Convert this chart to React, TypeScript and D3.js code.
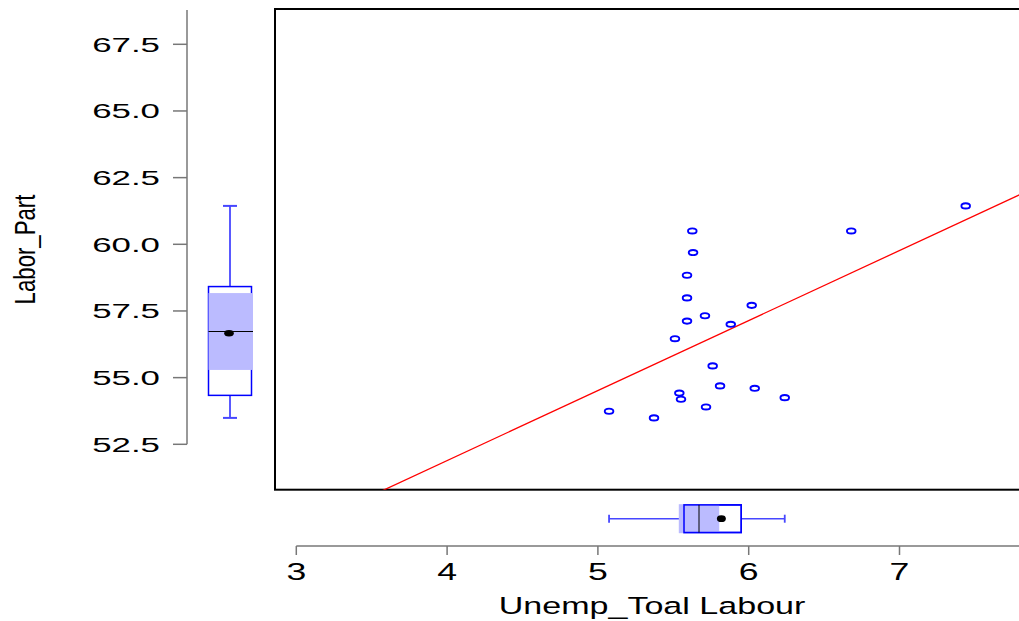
import React from "react";
import * as d3 from "d3";

// Data
const unemp: number[] = [
  5.626, 5.631, 5.591, 5.591, 5.591, 5.71, 5.881, 6.02, 5.511, 5.761,
  5.81, 6.04, 6.239, 5.54, 5.551, 5.717, 5.074, 5.372, 6.68, 7.439,
];
const laborPart: number[] = [
  60.5, 59.69, 58.84, 57.99, 57.12, 57.32, 57.0, 57.71, 56.46, 55.44,
  54.69, 54.6, 54.25, 54.42, 54.19, 53.9, 53.74, 53.49, 60.5, 61.44,
];
const xTicks: number[] = [3, 4, 5, 6, 7];
const yTicks: number[] = [52.5, 55, 57.5, 60, 62.5, 65, 67.5];
const xTitle = "Unemp_Toal Labour";
const yTitle = "Labor_Part";

const W = 1019;
const H = 621;
const FONT = "'Liberation Sans', Arial, Helvetica, sans-serif";

// plot region
const plotLeft = 275;
const plotTop = 9;
const plotBottom = 489.7;
const plotRight = 1040;

const x = d3.scaleLinear().domain([3, 8]).range([296.3, 296.3 + 5 * 150.8]);
const y = d3.scaleLinear().domain([52.5, 67.5]).range([444.3, 44.3]);

function fivenum(vals: number[]) {
  const s = [...vals].sort((a, b) => a - b);
  const n = s.length;
  const n4 = Math.floor((n + 3) / 2) / 2;
  const d = [1, n4, (n + 1) / 2, n + 1 - n4, n];
  return d.map((k) => 0.5 * (s[Math.floor(k) - 1] + s[Math.ceil(k) - 1]));
}

function boxStats(vals: number[]) {
  const [mn, lo, med, hi, mx] = fivenum(vals);
  const iqr = hi - lo;
  const inside = vals.filter((v) => v >= lo - 1.5 * iqr && v <= hi + 1.5 * iqr);
  const notch = (1.58 * iqr) / Math.sqrt(vals.length);
  return {
    lo,
    hi,
    med,
    wLo: d3.min(inside) as number,
    wHi: d3.max(inside) as number,
    nLo: med - notch,
    nHi: med + notch,
    mean: d3.mean(vals) as number,
    mn,
    mx,
  };
}

// least squares fit
function fit(xs: number[], ys: number[]) {
  const mx = d3.mean(xs) as number;
  const my = d3.mean(ys) as number;
  let sxy = 0;
  let sxx = 0;
  xs.forEach((xv, i) => {
    sxy += (xv - mx) * (ys[i] - my);
    sxx += (xv - mx) * (xv - mx);
  });
  const b = sxy / sxx;
  return { a: my - b * mx, b };
}

const BLUE = "#0000ff";
const WHISK = "#4747ff";
const SHADE = "#bbbbff";
const AXIS = "#777777";

export default function App() {
  const bx = boxStats(unemp);
  const by = boxStats(laborPart);
  const { a, b } = fit(unemp, laborPart);
  const x0 = x.invert(plotLeft);
  const x1 = x.invert(plotRight);
  const line = d3.line<[number, number]>()([
    [x(x0), y(a + b * x0)],
    [x(x1), y(a + b * x1)],
  ]) as string;

  // vertical boxplot (left)
  const cx = 230;
  const bw = 21.5;
  // horizontal boxplot (bottom)
  const cy = 518.7;
  const bh = 13.8;

  return (
    <svg
      width={W}
      height={H}
      style={{ position: "absolute", left: 0, top: 0, background: "#fff" }}
      fontFamily={FONT}
    >
      <defs>
        <clipPath id="plotclip">
          <rect x={plotLeft} y={plotTop} width={plotRight - plotLeft} height={plotBottom - plotTop} />
        </clipPath>
      </defs>

      {/* Y axis */}
      <line x1={187} x2={187} y1={y(52.5)} y2={plotTop + 1} stroke={AXIS} strokeWidth={1.5} />
      {yTicks.map((t) => (
        <g key={t}>
          <line x1={173} x2={187} y1={y(t)} y2={y(t)} stroke={AXIS} strokeWidth={1.5} />
          <text
            transform={`translate(160,${y(t) + 7.2}) scale(1.7,1)`}
            textAnchor="end"
            fontSize={20.5}
            fill="#000"
          >
            {t.toFixed(1)}
          </text>
        </g>
      ))}
      <text
        transform={`translate(35,249.5) rotate(-90) scale(0.74,1)`}
        textAnchor="middle"
        fontSize={30}
        fill="#000"
      >
        {yTitle}
      </text>

      {/* X axis */}
      <line x1={x(3)} x2={W + 5} y1={546} y2={546} stroke={AXIS} strokeWidth={1.5} />
      {xTicks.map((t) => (
        <g key={t}>
          <line x1={x(t)} x2={x(t)} y1={546} y2={555} stroke={AXIS} strokeWidth={1.5} />
          <text
            transform={`translate(${x(t)},580) scale(1.55,1)`}
            textAnchor="middle"
            fontSize={23}
            fill="#000"
          >
            {t}
          </text>
        </g>
      ))}
      <text
        transform={`translate(652,614) scale(1.45,1)`}
        textAnchor="middle"
        fontSize={23.5}
        fill="#000"
      >
        {xTitle}
      </text>

      {/* plot box */}
      <rect
        x={plotLeft}
        y={plotTop}
        width={plotRight - plotLeft}
        height={plotBottom - plotTop}
        fill="none"
        stroke="#000"
        strokeWidth={2}
      />

      {/* regression line */}
      <path d={line} stroke="#ff0000" strokeWidth={1.3} fill="none" clipPath="url(#plotclip)" />

      {/* points */}
      {unemp.map((xv, i) => (
        <ellipse
          key={i}
          cx={x(xv)}
          cy={y(laborPart[i])}
          rx={4.3}
          ry={2.6}
          fill="none"
          stroke={BLUE}
          strokeWidth={1.9}
        />
      ))}

      {/* left boxplot for Labor_Part */}
      <g>
        <line x1={cx} x2={cx} y1={y(by.hi)} y2={y(by.wHi)} stroke={WHISK} strokeWidth={1.8} />
        <line x1={cx} x2={cx} y1={y(by.lo)} y2={y(by.wLo)} stroke={WHISK} strokeWidth={1.8} />
        <line x1={cx - 7} x2={cx + 7} y1={y(by.wHi)} y2={y(by.wHi)} stroke={WHISK} strokeWidth={2} />
        <line x1={cx - 7} x2={cx + 7} y1={y(by.wLo)} y2={y(by.wLo)} stroke={WHISK} strokeWidth={2} />
        <rect
          x={cx - bw}
          y={y(by.hi)}
          width={2 * bw}
          height={y(by.lo) - y(by.hi)}
          fill="#fff"
          stroke={BLUE}
          strokeWidth={1.5}
        />
        <rect
          x={cx - bw}
          y={y(by.nHi)}
          width={2 * bw + 1.5}
          height={y(by.nLo) - y(by.nHi)}
          fill={SHADE}
        />
        <line x1={cx - bw} x2={cx + bw + 1.5} y1={y(by.med)} y2={y(by.med)} stroke="#000" strokeWidth={1} />
        <ellipse cx={cx - 1} cy={y(by.mean)} rx={4.8} ry={3.3} fill="#000" />
      </g>

      {/* bottom boxplot for Unemp */}
      <g>
        <line x1={x(bx.hi)} x2={x(bx.wHi)} y1={cy} y2={cy} stroke={WHISK} strokeWidth={1.6} />
        <line x1={x(bx.lo)} x2={x(bx.wLo)} y1={cy} y2={cy} stroke={WHISK} strokeWidth={1.6} />
        <line x1={x(bx.wHi)} x2={x(bx.wHi)} y1={cy - 4} y2={cy + 4} stroke={WHISK} strokeWidth={1.8} />
        <line x1={x(bx.wLo)} x2={x(bx.wLo)} y1={cy - 4} y2={cy + 4} stroke={WHISK} strokeWidth={1.8} />
        <rect
          x={x(bx.lo)}
          y={cy - bh}
          width={x(bx.hi) - x(bx.lo)}
          height={2 * bh}
          fill="#fff"
          stroke={BLUE}
          strokeWidth={1.5}
        />
        <rect
          x={x(bx.nLo)}
          y={cy - bh - 0.7}
          width={x(bx.nHi) - x(bx.nLo)}
          height={2 * bh + 1.4}
          fill={SHADE}
        />
        <rect
          x={x(bx.lo)}
          y={cy - bh}
          width={x(bx.hi) - x(bx.lo)}
          height={2 * bh}
          fill="none"
          stroke={BLUE}
          strokeWidth={1.5}
        />
        <line x1={x(bx.med)} x2={x(bx.med)} y1={cy - bh} y2={cy + bh} stroke="#000" strokeWidth={1} />
        <ellipse cx={x(bx.mean)} cy={cy} rx={4.5} ry={3.4} fill="#000" />
      </g>
    </svg>
  );
}
